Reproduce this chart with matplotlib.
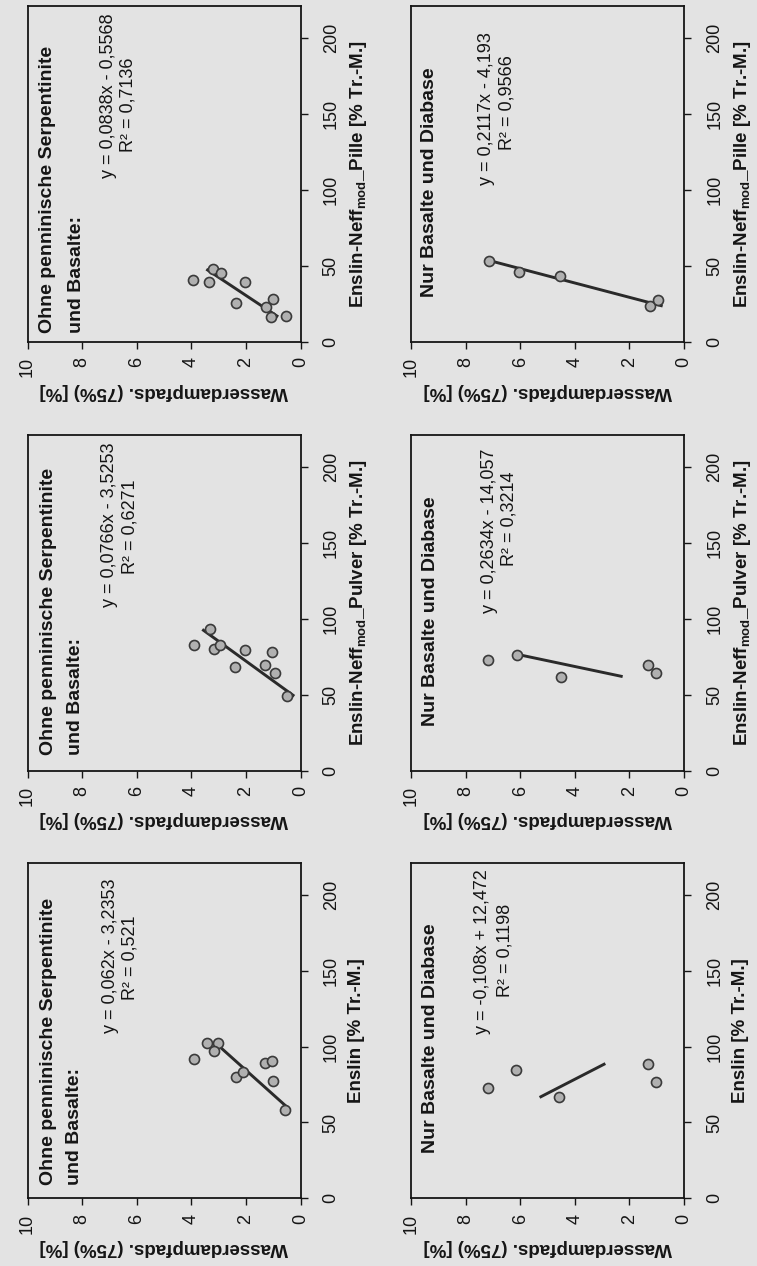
import matplotlib
matplotlib.use('Agg')
import matplotlib.pyplot as plt
import numpy as np

plt.rcParams['font.family'] = ['Liberation Sans', 'DejaVu Sans']
plt.rcParams['mathtext.fontset'] = 'custom'
plt.rcParams['mathtext.rm'] = 'Liberation Sans'
plt.rcParams['mathtext.bf'] = 'Liberation Sans:bold'
plt.rcParams['mathtext.it'] = 'Liberation Sans:italic'

# ---------------- data (x = Enslin value [% Tr.-M.], y = Wasserdampfads. (75%) [%]) -------------
pille_ohne_x = [40.6, 39.5, 47.8, 45.4, 39.5, 25.3, 23.0, 27.9, 16.4, 16.9]
pille_ohne_y = [3.94, 3.36, 3.20, 2.93, 2.05, 2.36, 1.28, 1.01, 1.08, 0.53]
pille_nur_x = [53.3, 46.0, 43.2, 23.5, 27.8]
pille_nur_y = [7.15, 6.05, 4.54, 1.23, 0.97]

pulver_ohne_x = [82.9, 93.0, 80.3, 82.5, 79.2, 68.1, 78.0, 69.3, 64.2, 49.0]
pulver_ohne_y = [3.90, 3.33, 3.18, 2.94, 2.02, 2.39, 1.04, 1.29, 0.94, 0.49]
pulver_nur_x = [72.8, 76.1, 61.9, 69.3, 64.5]
pulver_nur_y = [7.17, 6.11, 4.52, 1.31, 1.04]

enslin_ohne_x = [91.6, 102.6, 102.6, 97.3, 80.2, 83.1, 89.4, 90.7, 77.3, 58.2]
enslin_ohne_y = [3.91, 3.42, 3.01, 3.17, 2.38, 2.09, 1.31, 1.05, 1.02, 0.57]
enslin_nur_x = [72.7, 84.3, 66.5, 88.8, 76.7]
enslin_nur_y = [7.17, 6.14, 4.57, 1.32, 1.04]

# trend line coefficients (y = a*x + b)
slopes = [0.0838, 0.2117, 0.0766, 0.2634, 0.062, -0.108]
intercepts = [-0.5568, -4.193, -3.5253, -14.057, -3.2353, 12.472]
eq_texts = ["y = 0,0838x - 0,5568", "y = 0,2117x - 4,193",
            "y = 0,0766x - 3,5253", "y = 0,2634x - 14,057",
            "y = 0,062x - 3,2353", "y = -0,108x + 12,472"]
r2_texts = ["R² = 0,7136", "R² = 0,9566", "R² = 0,6271",
            "R² = 0,3214", "R² = 0,521", "R² = 0,1198"]
titles_ohne = ["Ohne penninische Serpentinite", "und Basalte:"]
title_nur = "Nur Basalte und Diabase"
x_labels = [r"Enslin-Neff$_{\mathbf{mod}}$_Pille [% Tr.-M.]",
            r"Enslin-Neff$_{\mathbf{mod}}$_Pulver [% Tr.-M.]",
            "Enslin [% Tr.-M.]"]
y_label = "Wasserdampfads. (75%) [%]"
enslin_ticks = [0, 50, 100, 150, 200]
wasser_ticks = [10, 8, 6, 4, 2, 0]

series = [(pille_ohne_x, pille_ohne_y), (pille_nur_x, pille_nur_y),
          (pulver_ohne_x, pulver_ohne_y), (pulver_nur_x, pulver_nur_y),
          (enslin_ohne_x, enslin_ohne_y), (enslin_nur_x, enslin_nur_y)]

# ---------------- layout ----------------
W, H = 757, 1266
BG = '#e3e3e3'
fig = plt.figure(figsize=(W / 100, H / 100), dpi=100, facecolor=BG)

col_left = [27.5, 411.0]
col_w = 273.0
row_bottom = [1266 - 341.7, 1266 - 770.5, 1266 - 1198.3]
row_h = 335.3

# text positions (axes fraction): title lines, equation, R²
txt_pos = [
    dict(t=[(0.091, 0.026), (0.195, 0.026)], eq=(0.315, 0.488), r2=(0.384, 0.565)),
    dict(t=[(0.083, 0.133)], eq=(0.293, 0.467), r2=(0.367, 0.571)),
    dict(t=[(0.092, 0.045), (0.192, 0.045)], eq=(0.318, 0.487), r2=(0.392, 0.587)),
    dict(t=[(0.089, 0.134)], eq=(0.303, 0.470), r2=(0.376, 0.609)),
    dict(t=[(0.092, 0.040), (0.190, 0.040)], eq=(0.320, 0.493), r2=(0.393, 0.592)),
    dict(t=[(0.088, 0.135)], eq=(0.277, 0.489), r2=(0.362, 0.599)),
]

TICK_FS = 13
LAB_FS = 13.5
TITLE_FS = 14
EQ_FS = 13
INK = '#151515'

for i, (ex, wy) in enumerate(series):
    r, c = divmod(i, 2)
    ax = fig.add_axes([col_left[c] / W, row_bottom[r] / H, col_w / W, row_h / H])
    ax.set_facecolor(BG)
    # rotated chart: horizontal = Wasserdampfads (reversed), vertical = Enslin
    ax.scatter(wy, ex, s=52, facecolor='#b0b0b0', edgecolor='#3a3a3a',
               linewidth=1.2, zorder=3)
    ex_arr = np.array(ex)
    e_line = np.array([ex_arr.min(), ex_arr.max()])
    w_line = slopes[i] * e_line + intercepts[i]
    ax.plot(w_line, e_line, color='#2a2a2a', lw=2.1, zorder=2,
            solid_capstyle='butt')

    ax.set_xlim(10, 0)
    ax.set_ylim(0, 221)
    ax.set_xticks(wasser_ticks)
    ax.set_xticklabels([str(t) for t in wasser_ticks], rotation=90,
                       fontsize=TICK_FS)
    ax.yaxis.tick_right()
    ax.yaxis.set_label_position('right')
    ax.set_yticks(enslin_ticks)
    ax.set_yticklabels([str(t) for t in enslin_ticks], rotation=90,
                       fontsize=TICK_FS, va='center')
    ax.tick_params(axis='x', direction='out', length=5, width=1.0, pad=6,
                   colors=INK)
    ax.tick_params(axis='y', direction='out', length=5, width=1.0, pad=11,
                   colors=INK)
    for sp in ax.spines.values():
        sp.set_linewidth(1.3)
        sp.set_color(INK)

    ax.set_xlabel(y_label, rotation=180, fontsize=LAB_FS, fontweight='bold',
                  labelpad=4, color=INK)
    ax.set_ylabel(x_labels[r], rotation=90, fontsize=LAB_FS,
                  fontweight='bold', labelpad=6, color=INK)

    pos = txt_pos[i]
    tlines = titles_ohne if c == 0 else [title_nur]
    for (tx, ty), tl in zip(pos['t'], tlines):
        ax.text(tx, ty, tl, transform=ax.transAxes, rotation=90,
                rotation_mode='anchor', ha='left', va='baseline',
                fontsize=TITLE_FS, fontweight='bold', color=INK)
    ax.text(pos['eq'][0], pos['eq'][1], eq_texts[i], transform=ax.transAxes,
            rotation=90, rotation_mode='anchor', ha='left', va='baseline',
            fontsize=EQ_FS, color=INK)
    ax.text(pos['r2'][0], pos['r2'][1], r2_texts[i], transform=ax.transAxes,
            rotation=90, rotation_mode='anchor', ha='left', va='baseline',
            fontsize=EQ_FS, color=INK)

fig.savefig('out.png', dpi=100, facecolor=BG)
